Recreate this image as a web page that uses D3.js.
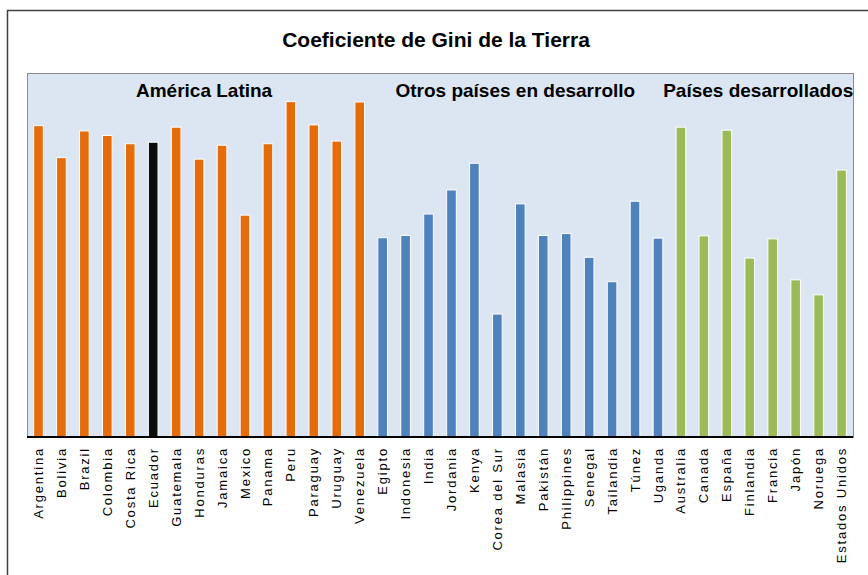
<!DOCTYPE html>
<html>
<head>
<meta charset="utf-8">
<script src="https://cdn.jsdelivr.net/npm/d3@7"></script>
<style>
  body { margin: 0; background: #fff; }
  text { font-family: "Liberation Sans", Arial, sans-serif; }
</style>
</head>
<body>
<svg id="chart"></svg>
<script>
// data
const latinCountries = ['Argentina', 'Bolivia', 'Brazil', 'Colombia', 'Costa Rica', 'Ecuador', 'Guatemala',
  'Honduras', 'Jamaica', 'Mexico', 'Panama', 'Peru', 'Paraguay', 'Uruguay', 'Venezuela'];
const latinValues = [0.828, 0.743, 0.814, 0.802, 0.780, 0.784, 0.824, 0.739, 0.776, 0.590, 0.780, 0.892, 0.830, 0.787, 0.891];

const otherCountries = ['Egipto', 'Indonesia', 'India', 'Jordania', 'Kenya', 'Corea del Sur', 'Malasia',
  'Pakistán', 'Philippines', 'Senegal', 'Tailandia', 'Túnez', 'Uganda'];
const otherValues = [0.530, 0.536, 0.593, 0.657, 0.728, 0.327, 0.620, 0.536, 0.541, 0.478, 0.413, 0.627, 0.529];

const devCountries = ['Australia', 'Canada', 'España', 'Finlandia', 'Francia', 'Japón', 'Noruega', 'Estados Unidos'];
const devValues = [0.824, 0.535, 0.816, 0.476, 0.527, 0.418, 0.378, 0.710];

const groupNames = ['América Latina', 'Otros países en desarrollo', 'Países desarrollados'];
const highlight = 'Ecuador';

// set up constants
const width = 868;
const height = 575;
const plot = { left: 27, right: 853, top: 73, bottom: 437 };
// small shifts of the group labels off their group's centre
const labelShift = [5, -5, -3];

const groups = [
  { name: groupNames[0], countries: latinCountries, values: latinValues, color: '#e46c0a' },
  { name: groupNames[1], countries: otherCountries, values: otherValues, color: '#4f81bd' },
  { name: groupNames[2], countries: devCountries, values: devValues, color: '#9bbb59' }
];

const data = [];
groups.forEach(g => {
  g.countries.forEach((c, i) => {
    data.push({ country: c, value: g.values[i], color: c === highlight ? '#0d0d0d' : g.color });
  });
});

const svg = d3.select('#chart')
  .attr('width', width)
  .attr('height', height);

// outer frame (runs off the right and bottom edge)
svg.append('rect')
  .attr('x', 7.5)
  .attr('y', 10.5)
  .attr('width', width + 10)
  .attr('height', height + 10)
  .attr('fill', '#fff')
  .attr('stroke', '#404040')
  .attr('stroke-width', 1.5);

// scales
const xScale = d3.scaleBand()
  .domain(data.map(d => d.country))
  .range([plot.left, plot.right])
  .paddingInner(0.58)
  .paddingOuter(0.29);

const yScale = d3.scaleLinear()
  .domain([0, 1])
  .range([plot.bottom, plot.bottom - 376]);

// plot area
svg.append('rect')
  .attr('x', plot.left + 0.5)
  .attr('y', plot.top + 0.5)
  .attr('width', plot.right - plot.left)
  .attr('height', plot.bottom - plot.top)
  .attr('fill', '#dce6f2')
  .attr('stroke', '#8a8a8a')
  .attr('stroke-width', 1);

// bars
svg.selectAll('.bar')
  .data(data)
  .enter()
  .append('rect')
  .attr('class', 'bar')
  .attr('x', d => xScale(d.country))
  .attr('y', d => yScale(d.value))
  .attr('width', xScale.bandwidth())
  .attr('height', d => yScale(0) - yScale(d.value))
  .attr('fill', d => d.color)
  .attr('stroke', '#fff')
  .attr('stroke-width', 1);

// x axis
const xAxis = d3.axisBottom(xScale).tickSize(0).tickPadding(0);
const gx = svg.append('g')
  .attr('transform', `translate(0, ${plot.bottom})`)
  .call(xAxis);

gx.select('.domain')
  .attr('d', `M${plot.left},0H${plot.right}`)
  .attr('stroke', '#000')
  .attr('stroke-width', 2);

gx.selectAll('text')
  .attr('transform', 'rotate(-90)')
  .attr('x', -10)
  .attr('y', 0)
  .attr('dy', '0.35em')
  .attr('text-anchor', 'end')
  .attr('font-size', 13)
  .attr('letter-spacing', 1.8)
  .attr('fill', '#000');

// group labels
groups.forEach((g, i) => {
  const first = g.countries[0];
  const last = g.countries[g.countries.length - 1];
  const cx = (xScale(first) + xScale(last) + xScale.bandwidth()) / 2 + labelShift[i];
  svg.append('text')
    .attr('x', cx)
    .attr('y', 97)
    .attr('text-anchor', 'middle')
    .attr('font-size', 19)
    .attr('font-weight', 'bold')
    .text(g.name);
});

// title
svg.append('text')
  .attr('x', 436)
  .attr('y', 47)
  .attr('text-anchor', 'middle')
  .attr('font-size', 21)
  .attr('font-weight', 'bold')
  .text('Coeficiente de Gini de la Tierra');
</script>
</body>
</html>
